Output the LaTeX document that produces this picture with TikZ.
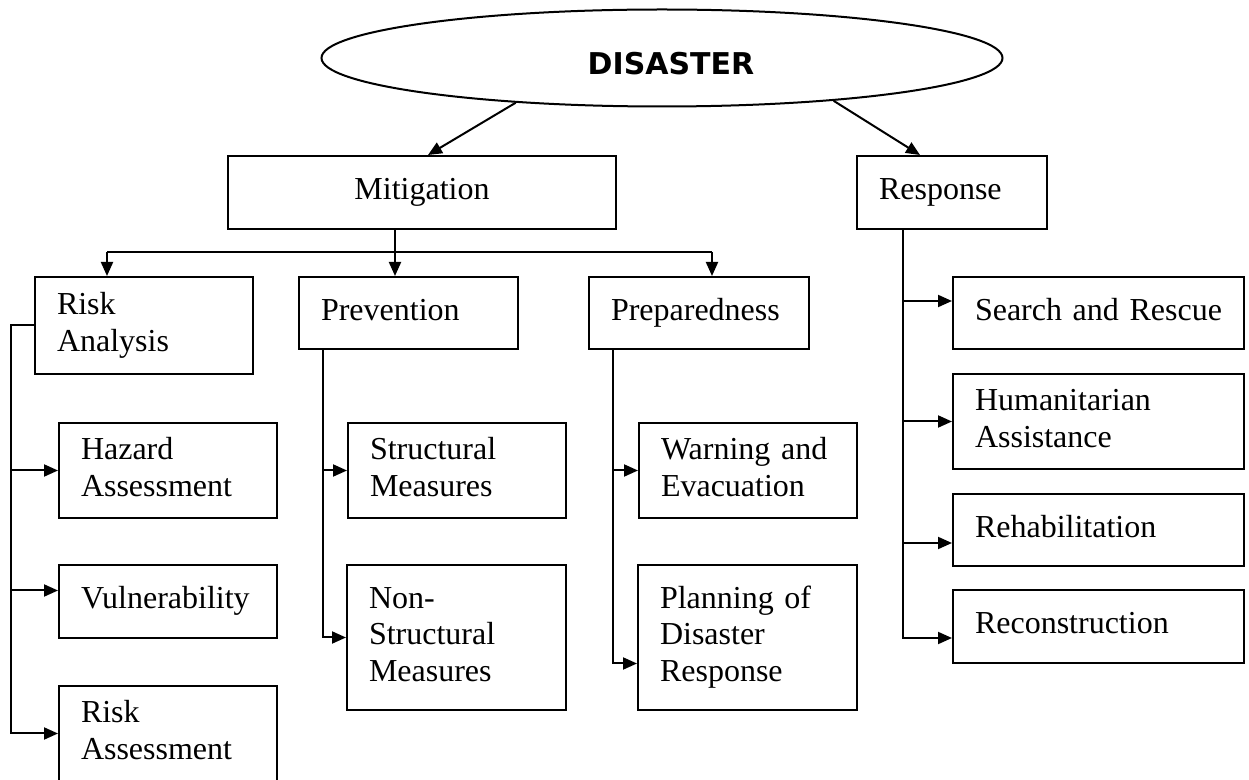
\documentclass[tikz,border=0pt]{standalone}
\usepackage{fontspec}
\setmainfont{Liberation Serif}
\newfontfamily\titlefont{DejaVu Sans}
\usetikzlibrary{shapes.geometric,arrows.meta}
\tikzset{
  box/.style = {draw, line width=1pt, rectangle, anchor=north west, align=left, inner xsep=11pt, inner ysep=1pt,
    font=\fontsize{16}{18.4}\selectfont, execute at begin node=\strut, execute at end node=\strut},
  top/.style = {draw, line width=1pt, ellipse, inner sep=0pt, minimum width=340.5pt, minimum height=48.5pt},
  line/.style = {line width=1pt},
  arrow/.style = {line width=1pt, -{Triangle[length=7pt,width=6pt]}}
}

\begin{document}
\begin{tikzpicture}[x=0.5pt, y=-0.5pt]
\useasboundingbox (0,0) rectangle (1249,780);

% top level
\node[top, label={[font=\titlefont\bfseries\fontsize{15}{17}\selectfont, xshift=4.5pt, yshift=-3pt]center:DISASTER}] (dis) at (662,58) {};
\node[box, align=center, text width=172pt, minimum height=36.5pt] (mit) at (227,155) {Mitigation};
\node[box, text width=73pt, minimum height=36.5pt] (resp) at (856,155) {Response};

% second level
\node[box, text width=87pt, minimum height=48.5pt] (ra) at (34,276) {Risk\\Analysis};
\node[box, text width=87.5pt, minimum height=36pt] (prev) at (298,276) {Prevention};
\node[box, text width=88pt, minimum height=36pt] (prep) at (588,276) {Preparedness};

% leaves
\node[box, text width=87pt, minimum height=47.5pt] (haz) at (58,422) {Hazard\\Assessment};
\node[box, text width=87pt, minimum height=36.5pt] (vul) at (58,564) {Vulnerability};
\node[box, text width=87pt, minimum height=47.5pt] (rass) at (58,685) {Risk\\Assessment};
\node[box, text width=87pt, minimum height=47.5pt] (str) at (347,422) {Structural\\Measures};
\node[box, text width=87.5pt, minimum height=72.5pt] (nstr) at (346,564) {Non-\\Structural\\Measures};
\node[box, text width=87pt, minimum height=47.5pt] (warn) at (638,422) {Warning and\\Evacuation};
\node[box, text width=87.5pt, minimum height=72.5pt] (plan) at (637,564) {Planning of\\Disaster\\Response};
\node[box, text width=123.5pt, minimum height=36pt] (sar) at (952,276) {\mbox{Search and Rescue}};
\node[box, text width=123.5pt, minimum height=47.5pt] (hum) at (952,373) {Humanitarian\\Assistance};
\node[box, text width=123.5pt, minimum height=36pt] (reh) at (952,493) {Rehabilitation};
\node[box, text width=123.5pt, minimum height=36.5pt] (rec) at (952,589) {Reconstruction};

% disaster to its two branches
\draw[arrow] (dis.197) -- ([xshift=3pt]mit.north);
\draw[arrow] (dis.346) -- ([xshift=32pt]resp.north west);

% mitigation bus
\coordinate (bus) at (395,252);
\coordinate (busL) at (107,252);
\coordinate (busR) at (712,252);
\draw[line] (mit.south -| bus) -- (bus);
\draw[line] (busL) -- (busR);
\draw[arrow] (busL) -- (busL |- ra.north);
\draw[arrow] (bus) -- (bus |- prev.north);
\draw[arrow] (busR) -- (busR |- prep.north);

% risk analysis
\coordinate (av) at ([xshift=-11.5pt]ra.west);
\coordinate (vulin) at ([yshift=5.5pt]vul.west);
\draw[arrow] (ra.west) -- (av) |- (rass.west);
\draw[arrow] (av |- haz.west) -- (haz.west);
\draw[arrow] (av |- vulin) -- (vulin);

% prevention
\coordinate (pv) at ([xshift=12.5pt]prev.south west);
\draw[arrow] (pv) |- (nstr.west);
\draw[arrow] (pv |- str.west) -- (str.west);

% preparedness
\coordinate (qv) at ([xshift=12.5pt]prep.south west);
\coordinate (planin) at ([yshift=-13pt]plan.west);
\draw[arrow] (qv) |- (planin);
\draw[arrow] (qv |- warn.west) -- (warn.west);

% response
\coordinate (rv) at ([xshift=23.5pt]resp.south west);
\coordinate (sarin) at ([yshift=6pt]sar.west);
\coordinate (rehin) at ([yshift=-6.5pt]reh.west);
\coordinate (recin) at ([yshift=-5.75pt]rec.west);
\draw[arrow] (rv) |- (recin);
\draw[arrow] (rv |- sarin) -- (sarin);
\draw[arrow] (rv |- hum.west) -- (hum.west);
\draw[arrow] (rv |- rehin) -- (rehin);
\end{tikzpicture}
\end{document}
